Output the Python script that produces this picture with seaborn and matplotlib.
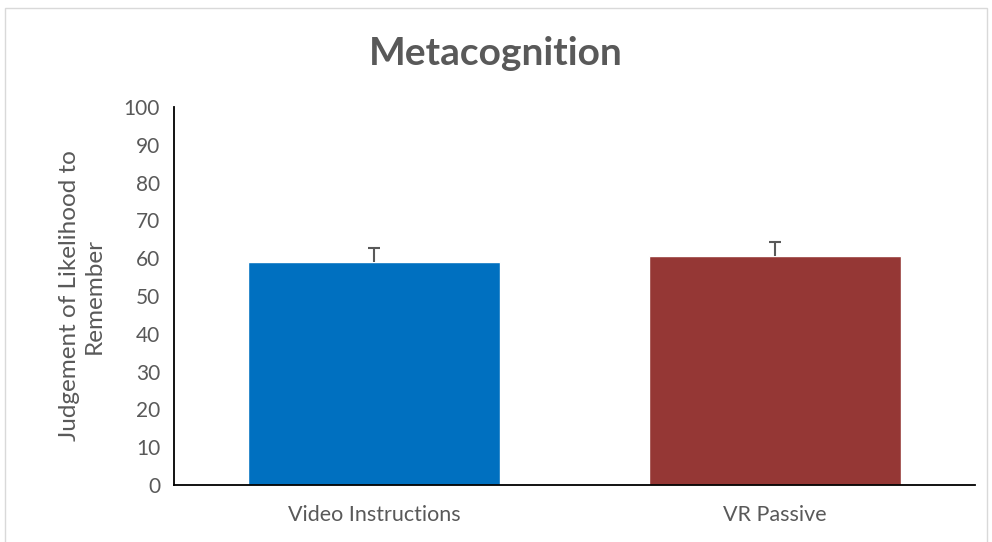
import matplotlib
matplotlib.use("Agg")
import matplotlib.pyplot as plt
import seaborn as sns
import pandas as pd
from matplotlib.patches import Rectangle

categories = ["Video Instructions", "VR Passive"]
means = [59.1, 60.5]
errors = [3.7, 3.7]
bar_colors = ["#0070C0", "#953735"]

sns.set_theme(style="white")
plt.rcParams["font.family"] = ["Lato", "DejaVu Sans"]

df = pd.DataFrame({"condition": categories, "jol": means})

fig = plt.figure(figsize=(9.92, 5.42), dpi=100)
ax = fig.add_axes([0.1754, 0.105, 0.8076, 0.6976])

sns.barplot(data=df, x="condition", y="jol", hue="condition", palette=bar_colors,
            width=0.63, legend=False, ax=ax, saturation=1)

# Excel style "plus" error bars: hide the lower cap
eb = ax.errorbar(range(len(categories)), means, yerr=[[0] * len(errors), errors],
                 fmt="none", ecolor="#595959", elinewidth=1.5, capsize=4.5, capthick=1.5)
eb[1][0].set_visible(False)

ax.set_ylim(0, 100)
ax.set_yticks(range(0, 101, 10))
ax.set_xlim(-0.5, 1.5)
ax.tick_params(axis="both", length=0, labelcolor="#595959")
ax.tick_params(axis="y", pad=10, labelsize=15)
ax.tick_params(axis="x", pad=14, labelsize=15.5)
ax.set_xlabel("")
ax.set_ylabel("Judgement of Likelihood to\nRemember", fontsize=17.5, color="#595959",
              labelpad=14)
for side in ["top", "right"]:
    ax.spines[side].set_visible(False)
for side in ["left", "bottom"]:
    ax.spines[side].set_color("#000000")
    ax.spines[side].set_linewidth(1.3)

fig.text(0.5, 0.902, "Metacognition", ha="center", va="center", fontsize=28,
         fontweight="bold", color="#595959")

fig.patches.append(Rectangle((0.005, -0.02), 0.99, 1.005, transform=fig.transFigure,
                             fill=False, edgecolor="#d9d9d9", linewidth=1))

fig.savefig("out.png", dpi=100)
